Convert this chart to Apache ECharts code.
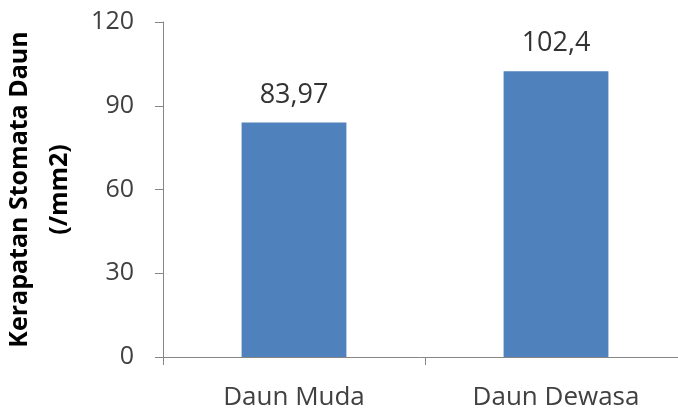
<!DOCTYPE html>
<html>
<head>
<meta charset="utf-8">
<script src="https://cdn.jsdelivr.net/npm/echarts@6/dist/echarts.min.js"></script>
<style>
  html, body { margin: 0; padding: 0; background: #fff; }
  #chart { width: 678px; height: 411px; }
</style>
</head>
<body>
<div id="chart"></div>
<script>
// data
const categories = ['Daun Muda', 'Daun Dewasa'];
const kerapatan = [83.97, 102.4];
const yTicks = [0, 30, 60, 90, 120];

const font = '"Open Sans", Lato, sans-serif';
const mychart = echarts.init(document.getElementById('chart'));

const option = {
  animation: false,
  // plot area runs a little past the right edge, as in the original
  grid: { left: 163, width: 524, top: 22, height: 335, outerBoundsMode: 'none', containLabel: false },
  xAxis: {
    type: 'category',
    data: categories,
    axisLine: { lineStyle: { color: '#868686', width: 1 } },
    axisTick: { show: true, length: 8, lineStyle: { color: '#868686' } },
    axisLabel: { color: '#404040', fontSize: 26, fontFamily: font, margin: 28 }
  },
  yAxis: {
    type: 'value',
    min: yTicks[0],
    max: yTicks[yTicks.length - 1],
    interval: 30,
    name: 'Kerapatan Stomata Daun\n(/mm2)',
    nameLocation: 'middle',
    nameGap: 81,
    nameTextStyle: {
      color: '#000',
      fontSize: 25,
      fontWeight: 'bold',
      fontFamily: font,
      lineHeight: 40,
      align: 'center'
    },
    axisLine: { show: true, lineStyle: { color: '#868686', width: 1 } },
    axisTick: { show: true, length: 8, lineStyle: { color: '#868686' } },
    splitLine: { show: false },
    axisLabel: { color: '#404040', fontSize: 25, fontFamily: font, margin: 29 }
  },
  series: [
    {
      type: 'bar',
      data: kerapatan,
      barWidth: '40%',
      itemStyle: { color: '#4F81BD' },
      label: {
        show: true,
        position: 'top',
        distance: 14,
        color: '#333',
        fontSize: 27,
        fontFamily: font,
        formatter: p => String(p.value).replace('.', ',')
      }
    }
  ]
};
mychart.setOption(option);
</script>
</body>
</html>
